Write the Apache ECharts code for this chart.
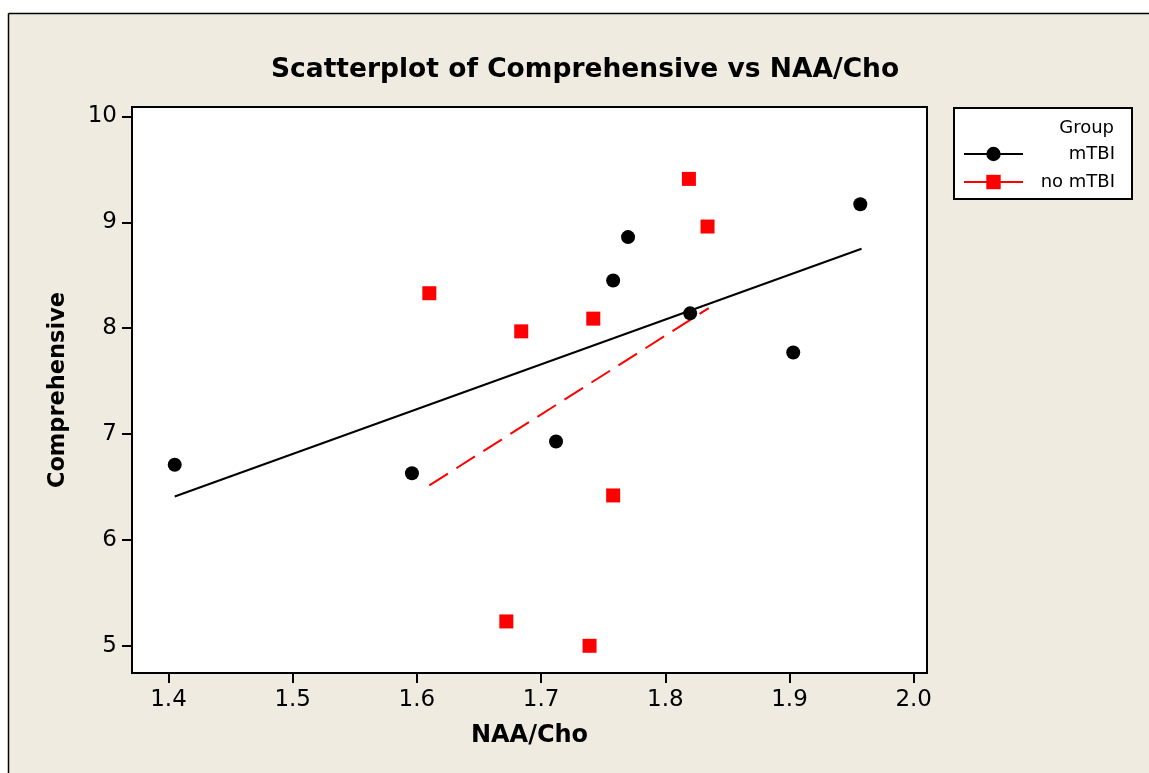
<!DOCTYPE html>
<html>
<head>
<meta charset="utf-8">
<script src="https://cdn.jsdelivr.net/npm/echarts@6/dist/echarts.min.js"></script>
<style>
html,body{margin:0;padding:0;background:#fff;}
#chart{width:1149px;height:773px;}
</style>
</head>
<body>
<div id="chart"></div>
<script>
// Data
const mtbiX = [1.405, 1.596, 1.712, 1.758, 1.770, 1.820, 1.903, 1.957];
const mtbiY = [6.71, 6.63, 6.93, 8.45, 8.86, 8.14, 7.77, 9.17];
const noMtbiX = [1.610, 1.684, 1.742, 1.819, 1.834, 1.758, 1.672, 1.739];
const noMtbiY = [8.33, 7.97, 8.09, 9.41, 8.96, 6.42, 5.23, 5.00];
const fitMtbiX = [1.405, 1.958];
const fitMtbiY = [6.41, 8.75];
const fitNoMtbiX = [1.610, 1.835];
const fitNoMtbiY = [6.515, 8.19];
const xTicks = [1.4, 1.5, 1.6, 1.7, 1.8, 1.9, 2.0];
const yTicks = [5, 6, 7, 8, 9, 10];
const groupNames = ['mTBI', 'no mTBI'];

const pairs = (xs, ys) => xs.map((x, i) => [x, ys[i]]);
const FONT = 'DejaVu Sans';

const chart = echarts.init(document.getElementById('chart'), null, {renderer: 'canvas'});
chart.setOption({
  backgroundColor: '#EFEBE1',
  animation: false,
  title: {
    text: 'Scatterplot of Comprehensive vs NAA/Cho',
    left: 266, top: 52,
    textStyle: {fontFamily: FONT, fontWeight: 'bold', fontSize: 26.5, color: '#000'}
  },
  graphic: [
    {type: 'rect', shape: {x: 0, y: 0, width: 1149, height: 13}, style: {fill: '#fff'}, silent: true},
    {type: 'rect', shape: {x: 0, y: 0, width: 8, height: 773}, style: {fill: '#fff'}, silent: true},
    {type: 'line', shape: {x1: 8.5, y1: 13.5, x2: 1149, y2: 13.5}, style: {stroke: '#000', lineWidth: 1.5}, silent: true},
    {type: 'line', shape: {x1: 8.5, y1: 13.5, x2: 8.5, y2: 773}, style: {stroke: '#000', lineWidth: 1.5}, silent: true},
    {type: 'rect', shape: {x: 954, y: 108, width: 178, height: 91}, style: {fill: '#fff', stroke: '#000', lineWidth: 2}, z: 1, silent: true},
    {type: 'text', style: {text: 'Group', x: 1114, y: 128, align: 'right', verticalAlign: 'middle', font: '18px "DejaVu Sans"', fill: '#000'}, z: 2, silent: true}
  ],
  legend: {
    data: [
      {name: groupNames[0]},
      {name: groupNames[1], lineStyle: {type: 'solid', width: 2}}
    ],
    orient: 'vertical',
    left: 963, top: 145,
    padding: 0,
    itemWidth: 59, itemHeight: 18, itemGap: 10, itemTextGap: 5,
    z: 3,
    formatter: '{t|{name}}',
    textStyle: {
      fontFamily: FONT, fontSize: 18, color: '#000',
      rich: {t: {width: 87, align: 'right', fontFamily: FONT, fontSize: 18, color: '#000'}}
    }
  },
  grid: {
    left: 132, right: 222, top: 107, bottom: 100,
    show: true, backgroundColor: '#fff', borderColor: '#000', borderWidth: 2
  },
  xAxis: {
    type: 'value', min: 1.3706, max: 2.0107,
    name: 'NAA/Cho', nameLocation: 'middle', nameGap: 51,
    nameTextStyle: {fontFamily: FONT, fontWeight: 'bold', fontSize: 24, color: '#000'},
    axisLine: {show: true, lineStyle: {color: '#000', width: 2}},
    axisTick: {show: true, inside: false, length: 10, customValues: xTicks, lineStyle: {color: '#000', width: 2}},
    axisLabel: {customValues: xTicks, margin: 16, fontFamily: FONT, fontSize: 23, color: '#000',
      formatter: v => v.toFixed(1)},
    splitLine: {show: false}
  },
  yAxis: {
    type: 'value', min: 4.743, max: 10.089,
    name: 'Comprehensive', nameLocation: 'middle', nameGap: 62, nameRotate: 90,
    nameTextStyle: {fontFamily: FONT, fontWeight: 'bold', fontSize: 22.5, color: '#000'},
    axisLine: {show: true, lineStyle: {color: '#000', width: 2}},
    axisTick: {show: true, inside: false, length: 10, customValues: yTicks, lineStyle: {color: '#000', width: 2}},
    axisLabel: {customValues: yTicks, margin: 15, fontFamily: FONT, fontSize: 23, color: '#000'},
    splitLine: {show: false}
  },
  series: [
    {
      name: groupNames[0], type: 'line', data: pairs(fitMtbiX, fitMtbiY),
      symbol: 'circle', symbolSize: 14, showSymbol: false,
      lineStyle: {color: '#000', width: 2}, itemStyle: {color: '#000'}, z: 2
    },
    {
      name: groupNames[1], type: 'line', data: pairs(fitNoMtbiX, fitNoMtbiY),
      symbol: 'rect', symbolSize: 14, showSymbol: false,
      lineStyle: {color: '#f00', width: 2, type: [22, 10]}, itemStyle: {color: '#f00'}, z: 2
    },
    {
      name: groupNames[0], type: 'scatter', data: pairs(mtbiX, mtbiY),
      symbol: 'circle', symbolSize: 14, itemStyle: {color: '#000', opacity: 1}, z: 3
    },
    {
      name: groupNames[1], type: 'scatter', data: pairs(noMtbiX, noMtbiY),
      symbol: 'rect', symbolSize: 14, itemStyle: {color: '#f00', opacity: 1}, z: 3
    }
  ]
});
</script>
</body>
</html>
